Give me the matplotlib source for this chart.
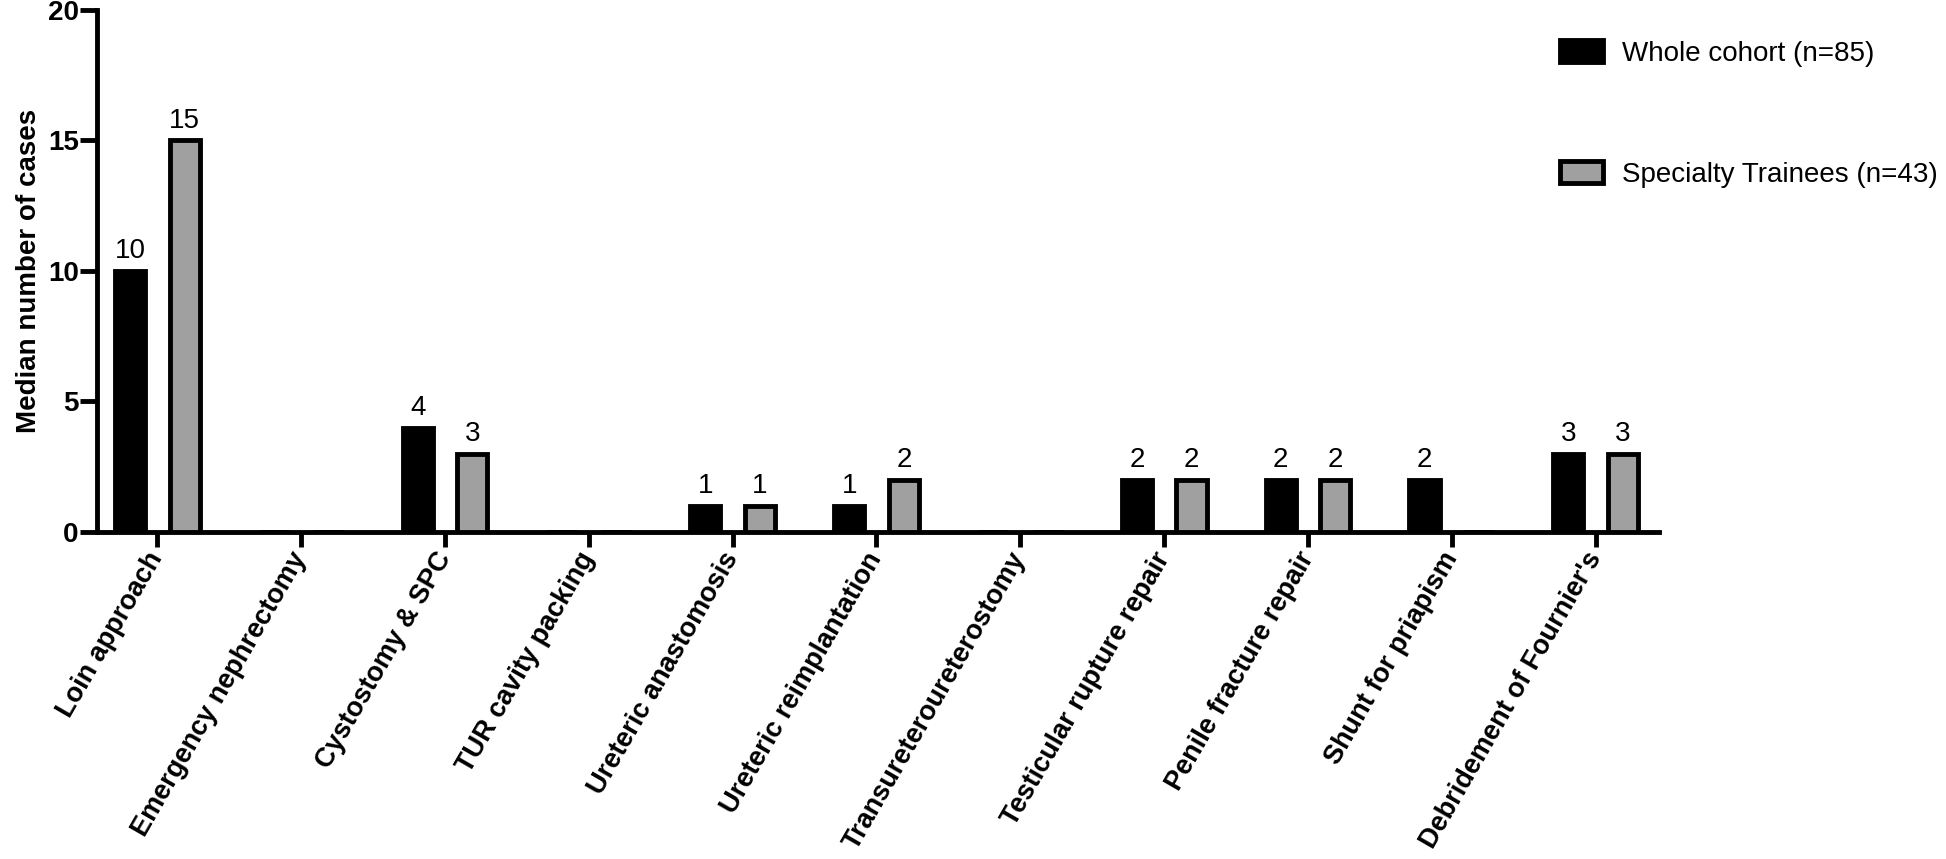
import matplotlib
matplotlib.use('Agg')
import matplotlib.pyplot as plt
import numpy as np

# data
categories = ['Loin approach', 'Emergency nephrectomy', 'Cystostomy & SPC',
              'TUR cavity packing', 'Ureteric anastomosis', 'Ureteric reimplantation',
              'Transureteroureterostomy', 'Testicular rupture repair',
              'Penile fracture repair', 'Shunt for priapism', "Debridement of Fournier's"]
whole_cohort = [10, 0, 4, 0, 1, 1, 0, 2, 2, 2, 3]
trainees = [15, 0, 3, 0, 1, 2, 0, 2, 2, 0, 3]
y_ticks = [0, 5, 10, 15, 20]

plt.rcParams['font.family'] = ['Liberation Sans', 'DejaVu Sans']

fig = plt.figure(figsize=(19.46, 8.59), dpi=100)
ax = fig.add_axes([0.0498, 0.3807, 0.8027, 0.6077])

x = np.arange(len(categories))
w = 0.21
off = 0.19
b1 = ax.bar(x - off, whole_cohort, w, color='black', edgecolor='black', linewidth=3.5,
            label='Whole cohort (n=85)', zorder=3)
b2 = ax.bar(x + off, trainees, w, color='#a0a0a0', edgecolor='black', linewidth=3.5,
            label='Specialty Trainees (n=43)', zorder=3)

# value labels (zeros are not labelled)
for bars, vals in ((b1, whole_cohort), (b2, trainees)):
    for r, v in zip(bars, vals):
        if v == 0:
            continue
        ax.annotate(str(v), (r.get_x() + r.get_width() / 2, v), xytext=(0, 5),
                    textcoords='offset points', ha='center', va='bottom', fontsize=20)

ax.set_xlim(-0.42, len(categories) - 1 + 0.44)
ax.set_ylim(0, 20)
ax.set_yticks(y_ticks)
ax.set_xticks(x)
ax.set_xticklabels(categories, rotation=60, ha='right', va='center',
                   rotation_mode='anchor', fontsize=19.5, fontweight='bold')
for lab in ax.get_yticklabels():
    lab.set_fontweight('bold')
ax.tick_params(axis='y', labelsize=20, width=3.5, length=12, pad=1)
ax.tick_params(axis='x', width=3.5, length=11, pad=5)
ax.set_ylabel('Median number of cases', fontsize=20, fontweight='bold', labelpad=4)

for s in ['top', 'right']:
    ax.spines[s].set_visible(False)
for s in ['left', 'bottom']:
    ax.spines[s].set_linewidth(3.5)

fig.legend(loc='upper left', bbox_to_anchor=(1560 / 1946, 1 - 40 / 859), frameon=False,
           fontsize=20, borderpad=0, borderaxespad=0, handlelength=1.55,
           handleheight=0.85, handletextpad=0.7, labelspacing=3.4)

plt.savefig('out.png', dpi=100)
